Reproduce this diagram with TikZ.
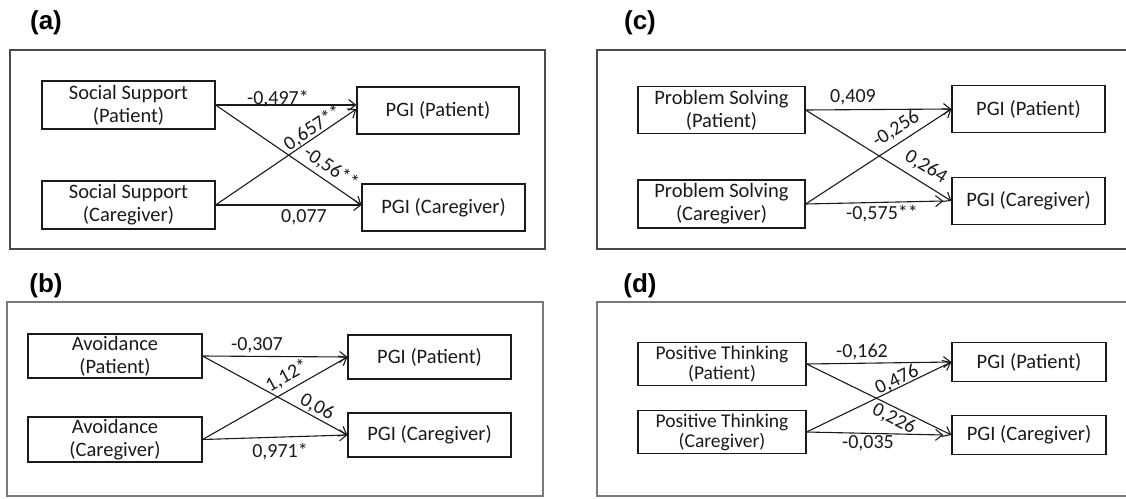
\documentclass[tikz,border=0pt]{standalone}
\usepackage{fontspec}
\setmainfont{Carlito}
\newfontfamily\panelfont{Liberation Sans}
\usetikzlibrary{arrows.meta}
\definecolor{ink}{HTML}{1A1A1A}
\definecolor{framegray}{HTML}{4A4A4A}
\definecolor{framelight}{HTML}{7A7A7A}
\begin{document}
\begin{tikzpicture}[x=1pt,y=-1pt,
  box/.style={draw=ink, line width=1.2pt, align=center, inner sep=0pt,
    font=\fontsize{20.5}{23}\selectfont, text=ink},
  tightbox/.style={box, font=\fontsize{19.5}{20}\selectfont},
  coef/.style={inner sep=0pt, font=\fontsize{20}{22}\selectfont, text=ink},
  path/.style={draw=ink, line width=1.1pt, -{Straight Barb[length=7pt,width=11pt,line width=1.1pt]}},
  panel/.style={font=\panelfont\bfseries\fontsize{26}{28}\selectfont, text=black, inner sep=0pt},
  frame/.style={draw=framegray, line width=1.3pt},
  framelt/.style={draw=framelight, line width=1.2pt}]
\useasboundingbox (0,0) rectangle (1126,498);

% ---------------- (a) Social Support ----------------
\node[panel] (pa) at (46,23) {(a)};
\draw[frame] (10,50) rectangle (545,249);
\node[box, minimum width=173pt, minimum height=48pt] (aSP) at (128.5,105) {Social Support\\(Patient)};
\node[box, minimum width=173pt, minimum height=48pt] (aSC) at (128.5,205) {Social Support\\(Caregiver)};
\node[box, minimum width=162pt, minimum height=47pt] (aGP) at (438,110.5) {PGI (Patient)};
\node[box, minimum width=163pt, minimum height=47pt] (aGC) at (443.5,207.5) {PGI (Caregiver)};
\coordinate (aTP) at ([yshift=5.5pt]aGP.west);
\coordinate (aTP2) at ([yshift=1.5pt]aGP.west);
\coordinate (aTC) at ([yshift=2.5pt]aGC.west);
\draw[path] (aSP.east) -- (aTP);
\draw[path] (aSC.east) -- (aTP2);
\draw[path] (aSP.east) -- (aTC);
\draw[path] (aSC.east) -- (aTC);
\node[coef] (a1) at (278,99) {-0,497*};
\node[coef, rotate=34] (a2) at (313,128) {0,657**};
\node[coef, rotate=-34] (a3) at (331,168) {-0,56**};
\node[coef] (a4) at (304,217) {0,077};

% ---------------- (b) Avoidance ----------------
\node[panel] (pb) at (46,286) {(b)};
\draw[framelt] (7,302) rectangle (543,496);
\node[box, minimum width=174pt, minimum height=44pt] (bAP) at (115,356) {Avoidance\\(Patient)};
\node[box, minimum width=174pt, minimum height=45pt] (bAC) at (115,439.5) {Avoidance\\(Caregiver)};
\node[box, minimum width=163pt, minimum height=44pt] (bGP) at (429.5,357) {PGI (Patient)};
\node[box, minimum width=163pt, minimum height=44pt] (bGC) at (429.5,435) {PGI (Caregiver)};
\draw[path] (bAP.east) -- (bGP.west);
\draw[path] (bAC.east) -- (bGP.west);
\draw[path] (bAP.east) -- (bGC.west);
\draw[path] (bAC.east) -- (bGC.west);
\node[coef] (b1) at (257,345) {-0,307};
\node[coef, rotate=29] (b2) at (287,376) {1,12*};
\node[coef, rotate=-28.5] (b3) at (317,407) {0,06};
\node[coef] (b4) at (280,452) {0,971*};

% ---------------- (c) Problem Solving ----------------
\node[panel] (pc) at (640,23) {(c)};
\draw[frame] (1140,50) -- (597,50) -- (597,249) -- (1140,249);
\node[box, minimum width=167pt, minimum height=47pt] (cPP) at (721.5,110) {Problem Solving\\(Patient)};
\node[box, minimum width=167pt, minimum height=48pt] (cPC) at (721.5,204) {Problem Solving\\(Caregiver)};
\node[box, minimum width=153pt, minimum height=47pt] (cGP) at (1028.5,109) {PGI (Patient)};
\node[box, minimum width=153pt, minimum height=47pt] (cGC) at (1028.5,201) {PGI (Caregiver)};
\coordinate (cEnd) at ([xshift=-8pt]cGC.west);
\draw[path] (cPP.east) -- (cGP.west);
\draw[path] (cPC.east) -- (cGP.west);
\draw[path] (cPP.east) -- (cGC.west);
\draw[path] (cPC.east) -- (cEnd);
\node[coef] (c1) at (853,97) {0,409};
\node[coef, rotate=33] (c2) at (896,129) {-0,256};
\node[coef, rotate=-31.5] (c3) at (926,167) {0,264};
\node[coef] (c4) at (882,214) {-0,575**};

% ---------------- (d) Positive Thinking ----------------
\node[panel] (pd) at (640,286) {(d)};
\draw[framelt] (1140,302) -- (597,302) -- (597,496) -- (1140,496);
\node[tightbox, minimum width=168pt, minimum height=43pt] (dTP) at (722,364) {Positive Thinking\\(Patient)};
\node[tightbox, minimum width=168pt, minimum height=43pt] (dTC) at (722,432) {Positive Thinking\\(Caregiver)};
\node[box, minimum width=154pt, minimum height=39pt] (dGP) at (1029,362) {PGI (Patient)};
\node[box, minimum width=154pt, minimum height=39pt] (dGC) at (1029,435) {PGI (Caregiver)};
\coordinate (dEnd) at ([xshift=-8pt]dGC.west);
\draw[path] (dTP.east) -- (dGP.west);
\draw[path] (dTC.east) -- (dGP.west);
\draw[path] (dTP.east) -- (dGC.west);
\draw[path] (dTC.east) -- (dEnd);
\node[coef] (d1) at (862,352) {-0,162};
\node[coef, rotate=26] (d2) at (897,380) {0,476};
\node[coef, rotate=-26.5] (d3) at (894,419) {0,226};
\node[coef] (d4) at (868,443) {-0,035};
\end{tikzpicture}
\end{document}
